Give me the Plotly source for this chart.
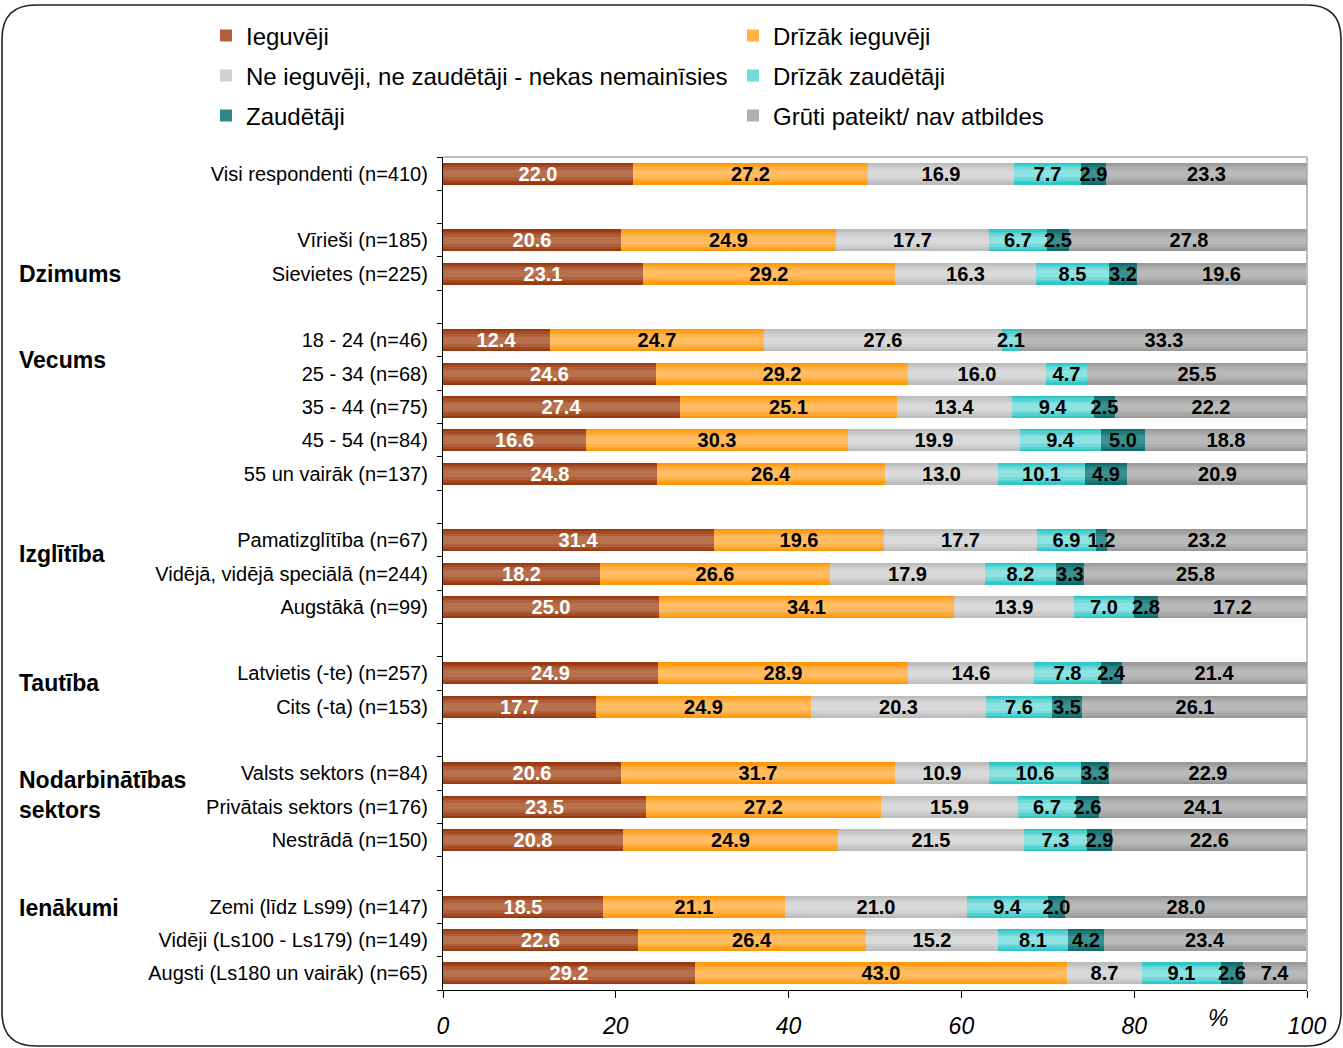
import numpy as np
import plotly.graph_objects as go

# Row labels top to bottom ("" = spacer row between groups)
rows = [
    "Visi respondenti (n=410)", "",
    "Vīrieši (n=185)", "Sievietes (n=225)", "",
    "18 - 24 (n=46)", "25 - 34 (n=68)", "35 - 44 (n=75)", "45 - 54 (n=84)", "55 un vairāk (n=137)", "",
    "Pamatizglītība (n=67)", "Vidējā, vidējā speciālā (n=244)", "Augstākā (n=99)", "",
    "Latvietis (-te) (n=257)", "Cits (-ta) (n=153)", "",
    "Valsts sektors (n=84)", "Privātais sektors (n=176)", "Nestrādā (n=150)", "",
    "Zemi (līdz Ls99) (n=147)", "Vidēji (Ls100 - Ls179) (n=149)", "Augsti (Ls180 un vairāk) (n=65)",
]

ieguveji = [22.0, None, 20.6, 23.1, None, 12.4, 24.6, 27.4, 16.6, 24.8, None,
            31.4, 18.2, 25.0, None, 24.9, 17.7, None, 20.6, 23.5, 20.8, None,
            18.5, 22.6, 29.2]
drizak_ieguveji = [27.2, None, 24.9, 29.2, None, 24.7, 29.2, 25.1, 30.3, 26.4, None,
                   19.6, 26.6, 34.1, None, 28.9, 24.9, None, 31.7, 27.2, 24.9, None,
                   21.1, 26.4, 43.0]
nemainisies = [16.9, None, 17.7, 16.3, None, 27.6, 16.0, 13.4, 19.9, 13.0, None,
               17.7, 17.9, 13.9, None, 14.6, 20.3, None, 10.9, 15.9, 21.5, None,
               21.0, 15.2, 8.7]
drizak_zaudetaji = [7.7, None, 6.7, 8.5, None, 2.1, 4.7, 9.4, 9.4, 10.1, None,
                    6.9, 8.2, 7.0, None, 7.8, 7.6, None, 10.6, 6.7, 7.3, None,
                    9.4, 8.1, 9.1]
zaudetaji = [2.9, None, 2.5, 3.2, None, None, None, 2.5, 5.0, 4.9, None,
             1.2, 3.3, 2.8, None, 2.4, 3.5, None, 3.3, 2.6, 2.9, None,
             2.0, 4.2, 2.6]
gruti = [23.3, None, 27.8, 19.6, None, 33.3, 25.5, 22.2, 18.8, 20.9, None,
         23.2, 25.8, 17.2, None, 21.4, 26.1, None, 22.9, 24.1, 22.6, None,
         28.0, 23.4, 7.4]

series_names = ["Ieguvēji", "Drīzāk ieguvēji", "Ne ieguvēji, ne zaudētāji - nekas nemainīsies",
                "Drīzāk zaudētāji", "Zaudētāji", "Grūti pateikt/ nav atbildes"]
series_values = [ieguveji, drizak_ieguveji, nemainisies, drizak_zaudetaji, zaudetaji, gruti]

x_ticks = [0, 20, 40, 60, 80, 100]

groups = [("Dzimums", 3.0), ("Vecums", 5.6), ("Izglītība", 11.4), ("Tautība", 15.3),
          ("Nodarbinātības<br>sektors", 18.65), ("Ienākumi", 22.05)]

# Styling: (edge colour, centre colour) for a soft vertical gradient, label colour
edge_centre = [("#9A3A10", "#B8714D"), ("#FF9A0D", "#FFBC62"), ("#BDBDBD", "#D9D9D9"),
               ("#33C6C6", "#8EE2E2"), ("#0E6E6E", "#3B9191"), ("#9A9A9A", "#B9B9B9")]
label_colours = ["white", "black", "black", "black", "black", "black"]
legend_of = ["legend", "legend", "legend2", "legend2", "legend3", "legend3"]

FONT = "Liberation Sans, Arial, sans-serif"
BAR_W = 0.66
layers = [(1.0, 0.0), (0.8, 0.35), (0.58, 0.7), (0.34, 1.0)]


def mix(c1, c2, t):
    a = np.array([int(c1[i:i + 2], 16) for i in (1, 3, 5)], float)
    b = np.array([int(c2[i:i + 2], 16) for i in (1, 3, 5)], float)
    r = np.round(a + (b - a) * t).astype(int)
    return "rgb(%d,%d,%d)" % tuple(r)


y_pos = np.arange(len(rows))
vals = np.array([[np.nan if v is None else v for v in s] for s in series_values], float)
bases = np.vstack([np.zeros(len(rows)), np.cumsum(np.nan_to_num(vals), axis=0)[:-1]])

fig = go.Figure()

for k, name in enumerate(series_names):
    edge, centre = edge_centre[k]
    for j, (wf, t) in enumerate(layers):
        fig.add_trace(go.Bar(
            y=y_pos, x=vals[k], base=bases[k], orientation="h",
            width=BAR_W * wf, name=name, legendgroup=name, legend=legend_of[k],
            showlegend=(j == 2), legendrank=k + 1,
            marker=dict(color=mix(edge, centre, t), line=dict(width=0)),
            hoverinfo="skip",
        ))

# Value labels on top of every segment
for k, name in enumerate(series_names):
    txt = ["" if np.isnan(v) else f"{v:.1f}" for v in vals[k]]
    fig.add_trace(go.Bar(
        y=y_pos, x=vals[k], base=bases[k], orientation="h", width=BAR_W,
        name=name, legendgroup=name, legend=legend_of[k], showlegend=False,
        marker=dict(color="rgba(0,0,0,0)", line=dict(width=0)),
        text=txt, textposition="inside", insidetextanchor="middle", textangle=0,
        textfont=dict(family=FONT, size=20, color=label_colours[k], weight="bold"),
        constraintext="none", hovertemplate="%{y}: %{x}<extra></extra>",
    ))

label_idx = [i for i, r in enumerate(rows) if r]

L, R, T, B = 443, 36, 157, 58
W, H = 1343, 1048
pw, ph = W - L - R, H - T - B


def px(x):
    return (x - L) / pw


def py(y):
    return (H - B - y) / ph


annotations = []
for text, yy in groups:
    annotations.append(dict(
        text=text, x=px(17), xref="paper", y=yy, yref="y", xanchor="left", yanchor="middle",
        align="left", showarrow=False, font=dict(family=FONT, size=23, color="black", weight="bold"),
    ))
annotations.append(dict(
    text="%", x=px(1218), xref="paper", y=py(1018), yref="paper", xanchor="center",
    yanchor="middle", showarrow=False, font=dict(family=FONT, size=23, color="black", style="italic"),
))

# Rounded frame around the whole chart
bl, br, bt, bb, rad = 2, 1341, 5, 1046, 34
path = (f"M {px(bl + rad)} {py(bt)} L {px(br - rad)} {py(bt)} "
        f"Q {px(br)} {py(bt)} {px(br)} {py(bt + rad)} L {px(br)} {py(bb - rad)} "
        f"Q {px(br)} {py(bb)} {px(br - rad)} {py(bb)} L {px(bl + rad)} {py(bb)} "
        f"Q {px(bl)} {py(bb)} {px(bl)} {py(bb - rad)} L {px(bl)} {py(bt + rad)} "
        f"Q {px(bl)} {py(bt)} {px(bl + rad)} {py(bt)} Z")

shapes = [
    dict(type="path", path=path, xref="paper", yref="paper", line=dict(color="#222222", width=1.6),
         layer="below"),
    dict(type="line", xref="paper", yref="paper", x0=0, x1=1, y0=1, y1=1,
         line=dict(color="#A8A8A8", width=1.5)),
    dict(type="line", xref="paper", yref="paper", x0=1, x1=1, y0=0, y1=1,
         line=dict(color="#A8A8A8", width=1.5)),
]


def legend_row(y_px):
    return dict(
        orientation="h", x=px(206), xanchor="left", y=py(y_px), yanchor="middle",
        entrywidth=482, entrywidthmode="pixels", traceorder="normal",
        font=dict(family=FONT, size=24, color="black"), bgcolor="rgba(0,0,0,0)",
        itemwidth=30,
    )


fig.update_layout(
    width=W, height=H,
    margin=dict(l=L, r=R, t=T, b=B, autoexpand=False),
    barmode="overlay", bargap=0,
    paper_bgcolor="white", plot_bgcolor="white",
    font=dict(family=FONT, color="black"),
    uniformtext=dict(minsize=20, mode="show"),
    legend=legend_row(36), legend2=legend_row(76), legend3=legend_row(116),
    xaxis=dict(
        range=[0, 100], tickvals=x_ticks, ticktext=[str(v) for v in x_ticks],
        ticks="outside", ticklen=7, tickcolor="black", showline=True, linecolor="black",
        linewidth=1.3, showgrid=False, zeroline=False, ticklabelstandoff=8, automargin=False,
        tickfont=dict(family=FONT, size=23, color="black", style="italic"),
    ),
    yaxis=dict(
        range=[len(rows) - 0.5, -0.5], tickmode="array", tickvals=label_idx,
        ticktext=[rows[i] for i in label_idx], ticks="", showline=True, linecolor="black",
        linewidth=1.3, showgrid=False, zeroline=False, ticklabelstandoff=10, automargin=False,
        tickfont=dict(family=FONT, size=20, color="black"),
        minor=dict(tickmode="array", tickvals=[i + 0.5 for i in range(-1, len(rows))],
                   ticks="outside", ticklen=5, tickcolor="black", showgrid=False),
    ),
    annotations=annotations, shapes=shapes,
)

fig.write_html("out.html")
